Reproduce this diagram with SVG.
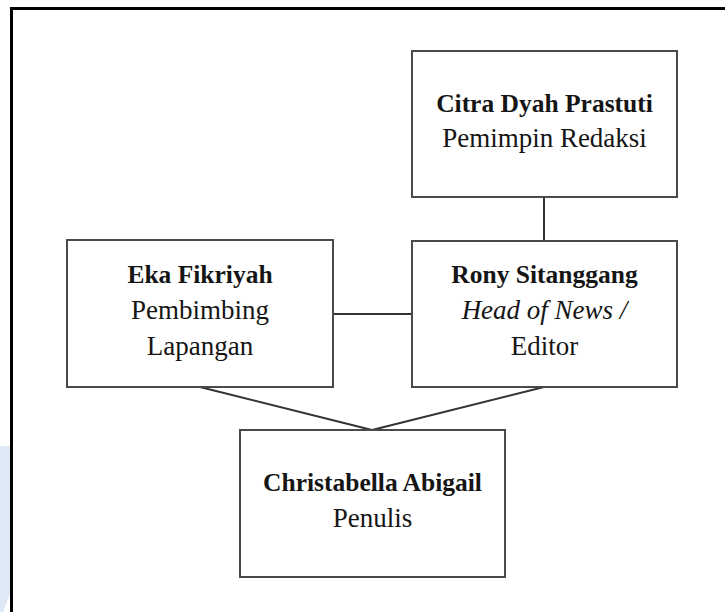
<svg xmlns="http://www.w3.org/2000/svg" width="725" height="612" viewBox="0 0 725 612">
<style>
.box{fill:#fff;stroke:#4a4a4a;stroke-width:2}
.con{stroke:#333;stroke-width:2;fill:none}
text{font-family:"Liberation Serif","Times New Roman",serif;fill:#151515;text-anchor:middle}
.b{font-weight:bold;font-size:25.5px}
.r{font-size:27px}
.i{font-size:27px;font-style:italic}
</style>
<rect width="725" height="612" fill="#fff"/>
<polygon points="0,446 10,446 10,594 3,612 0,612" fill="#dfe9f5"/>
<path d="M11.5,614 V8.5 H727" fill="none" stroke="#000" stroke-width="3"/>
<g id="connectors">
<line class="con" x1="544" y1="197" x2="544" y2="241"/>
<line class="con" x1="333" y1="314" x2="412" y2="314"/>
<line class="con" x1="200" y1="387" x2="372" y2="430"/>
<line class="con" x1="544" y1="387" x2="372" y2="430"/>
</g>
<g id="citra">
<rect class="box" x="412" y="51" width="265" height="146"/>
<text x="544.5" y="112" class="b">Citra Dyah Prastuti</text>
<text x="544.5" y="147" class="r">Pemimpin Redaksi</text>
</g>
<g id="eka">
<rect class="box" x="67" y="240" width="266" height="147"/>
<text x="200" y="283" class="b">Eka Fikriyah</text>
<text x="200" y="319" class="r">Pembimbing</text>
<text x="200" y="355" class="r">Lapangan</text>
</g>
<g id="rony">
<rect class="box" x="412" y="241" width="265" height="146"/>
<text x="544.5" y="283" class="b">Rony Sitanggang</text>
<text x="544.5" y="319" class="i">Head of News /</text>
<text x="544.5" y="355" class="r">Editor</text>
</g>
<g id="christabella">
<rect class="box" x="240" y="430" width="265" height="147"/>
<text x="372.5" y="491" class="b">Christabella Abigail</text>
<text x="372.5" y="527" class="r">Penulis</text>
</g>
</svg>
